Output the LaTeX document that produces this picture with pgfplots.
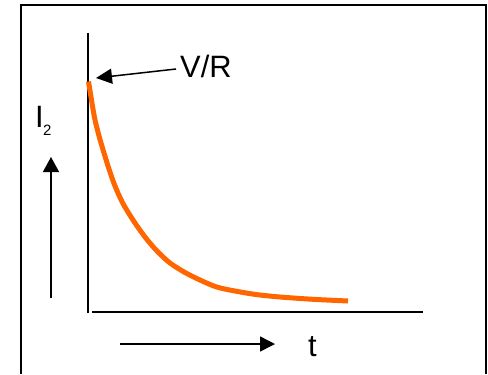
\documentclass[border=0pt]{standalone}
\usepackage{pgfplots}
\pgfplotsset{compat=1.18}
\usepackage{fontspec}
\setmainfont{Liberation Sans}
\usetikzlibrary{arrows.meta}
\definecolor{curveorange}{HTML}{FF6600}
\begin{document}
\begin{tikzpicture}[x=1bp,y=1bp]
\begin{axis}[
  at={(0,0)}, anchor=south west,
  scale only axis, width=488bp, height=374bp,
  xmin=0, xmax=488, ymin=0, ymax=374, y dir=reverse,
  hide axis, clip=false,
]
% outer frame (bottom edge outside picture)
\draw[line width=2bp] (axis cs:21,374) -- (axis cs:21,5) -- (axis cs:486,5) -- (axis cs:486,374);
% axes
\draw[line width=1.5bp] (axis cs:88,33) -- (axis cs:88,313);
\draw[line width=1.5bp] (axis cs:92,312) -- (axis cs:423,312);
% decay curve I2(t)
\addplot[color=curveorange, line width=5bp, smooth, tension=0.5, line cap=butt] coordinates {
(88.5,81.5) (92,103) (95,120) (99.3,137) (104,153) (109.3,170) (115,186)
(122.7,203) (133,220) (145,237) (157,251) (170,263) (185,272.5) (200,280)
(216.7,287) (235,291) (256,294.5) (280,297) (313,299.3) (348,301)
};
% annotation V/R
\draw[line width=1.5bp, -{Triangle[length=16bp,width=15bp]}] (axis cs:176,69) -- (axis cs:96,78);
\node[anchor=base west, inner sep=0pt, font=\fontsize{31}{37}\selectfont] at (axis cs:180,77) {V/R};
% I2 label and arrow
\node[anchor=base west, inner sep=0pt, font=\fontsize{31}{37}\selectfont] at (axis cs:35,127) {I};
\node[anchor=base west, inner sep=0pt, font=\fontsize{15}{18}\selectfont] at (axis cs:43,135) {2};
\draw[line width=1.5bp, -{Triangle[length=15bp,width=16bp]}] (axis cs:51,298) -- (axis cs:51,157);
% t label and arrow
\draw[line width=1.5bp, -{Triangle[length=15bp,width=15bp]}] (axis cs:120,344) -- (axis cs:275,344);
\node[anchor=base west, inner sep=0pt, font=\fontsize{31}{37}\selectfont] at (axis cs:308,356) {t};
\end{axis}
\pgfresetboundingbox
\path (0,0) rectangle (488,374);
\end{tikzpicture}
\end{document}
